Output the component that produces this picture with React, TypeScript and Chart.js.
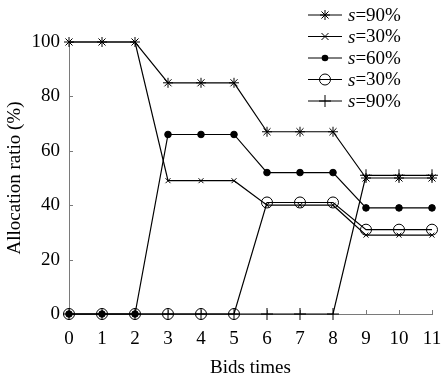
import React, { useEffect, useRef } from 'react';
import { Chart, registerables } from 'chart.js';

Chart.register(...registerables);

const bids = [0, 1, 2, 3, 4, 5, 6, 7, 8, 9, 10, 11];
const starS90 = [100, 100, 100, 85, 85, 85, 67, 67, 67, 50, 50, 50];
const crossS30 = [100, 100, 100, 49, 49, 49, 40, 40, 40, 29, 29, 29];
const dotS60 = [0, 0, 0, 66, 66, 66, 52, 52, 52, 39, 39, 39];
const circleS30 = [0, 0, 0, 0, 0, 0, 41, 41, 41, 31, 31, 31];
const plusS90 = [0, 0, 0, 0, 0, 0, 0, 0, 0, 51, 51, 51];
const legendValues = ['90%', '30%', '60%', '30%', '90%'];
const xTitle = 'Bids times';
const yTitle = 'Allocation ratio (%)';

const FONT = '"Liberation Serif", "Times New Roman", serif';
const AXIS = '#7a7a7a';

type Marker = 'star' | 'crossRot' | 'dot' | 'circle' | 'cross';

function drawMarker(ctx: CanvasRenderingContext2D, kind: Marker, x: number, y: number) {
  ctx.save();
  ctx.strokeStyle = '#000';
  ctx.fillStyle = '#000';
  ctx.lineWidth = 1;
  ctx.beginPath();
  if (kind === 'star') {
    const r = 5;
    for (let k = 0; k < 4; k++) {
      const a = (k * Math.PI) / 4;
      ctx.moveTo(x - r * Math.cos(a), y - r * Math.sin(a));
      ctx.lineTo(x + r * Math.cos(a), y + r * Math.sin(a));
    }
    ctx.stroke();
  } else if (kind === 'crossRot') {
    const r = 3.5;
    ctx.moveTo(x - r, y - r);
    ctx.lineTo(x + r, y + r);
    ctx.moveTo(x - r, y + r);
    ctx.lineTo(x + r, y - r);
    ctx.stroke();
  } else if (kind === 'dot') {
    ctx.arc(x, y, 3.3, 0, Math.PI * 2);
    ctx.fill();
  } else if (kind === 'circle') {
    ctx.arc(x, y, 5.5, 0, Math.PI * 2);
    ctx.stroke();
  } else {
    const r = 6;
    ctx.moveTo(x - r, y);
    ctx.lineTo(x + r, y);
    ctx.moveTo(x, y - r);
    ctx.lineTo(x, y + r);
    ctx.stroke();
  }
  ctx.restore();
}

const markers: Marker[] = ['star', 'crossRot', 'dot', 'circle', 'cross'];

const legendPlugin = {
  id: 'customLegend',
  afterDraw(chart: any) {
    const ctx: CanvasRenderingContext2D = chart.ctx;
    ctx.save();
    legendValues.forEach((v, i) => {
      const y = 15 + i * 21.5;
      ctx.strokeStyle = '#000';
      ctx.lineWidth = 1;
      ctx.beginPath();
      ctx.moveTo(308, y);
      ctx.lineTo(342, y);
      ctx.stroke();
      drawMarker(ctx, markers[i], 325, y);
      ctx.fillStyle = '#000';
      ctx.textBaseline = 'middle';
      ctx.textAlign = 'left';
      ctx.font = `italic 19px ${FONT}`;
      ctx.fillText('s', 348, y + 1);
      const w = ctx.measureText('s').width;
      ctx.font = `19px ${FONT}`;
      ctx.fillText('=' + v, 348 + w, y + 1);
    });
    ctx.restore();
  },
};

const tickPlugin = {
  id: 'inwardTicks',
  beforeDatasetsDraw(chart: any) {
    const ctx: CanvasRenderingContext2D = chart.ctx;
    const xs = chart.scales.x;
    const ys = chart.scales.y;
    const { left, bottom } = chart.chartArea;
    ctx.save();
    ctx.strokeStyle = AXIS;
    ctx.lineWidth = 1;
    ctx.beginPath();
    bids.forEach((b) => {
      const px = Math.round(xs.getPixelForValue(b)) + 0.5;
      ctx.moveTo(px, bottom);
      ctx.lineTo(px, bottom - 4);
    });
    [20, 40, 60, 80, 100].forEach((t) => {
      const py = Math.round(ys.getPixelForValue(t)) + 0.5;
      ctx.moveTo(left, py);
      ctx.lineTo(left + 4, py);
    });
    ctx.stroke();
    ctx.restore();
  },
};

export default function App() {
  const ref = useRef<HTMLCanvasElement>(null);
  useEffect(() => {
    if (!ref.current) return;
    const mk = (vals: number[], style: string, radius: number, fill: string) => ({
      data: vals.map((v, i) => ({ x: bids[i], y: v })),
      borderColor: '#000',
      borderWidth: 1.2,
      pointStyle: style,
      pointRadius: radius,
      pointBorderColor: '#000',
      pointBackgroundColor: fill,
      pointBorderWidth: 1,
      tension: 0,
      clip: false as any,
    });
    const chart = new Chart(ref.current, {
      type: 'line',
      data: {
        datasets: [
          mk(starS90, 'star', 5, '#000'),
          mk(crossS30, 'crossRot', 3.5, '#000'),
          mk(dotS60, 'circle', 3.3, '#000'),
          mk(circleS30, 'circle', 5.5, 'rgba(0,0,0,0)'),
          mk(plusS90, 'cross', 6, '#000'),
        ] as any,
      },
      options: {
        animation: false,
        responsive: false,
        maintainAspectRatio: false,
        layout: { padding: { top: 42, right: 11, left: 0, bottom: 0 } },
        plugins: { legend: { display: false }, tooltip: { enabled: false } },
        scales: {
          x: {
            type: 'linear',
            min: 0,
            max: 11,
            afterFit: (s: any) => {
              s.height = 69;
              s.paddingLeft = 0;
              s.paddingRight = 0;
            },
            grid: { display: false, drawTicks: false },
            border: { color: AXIS, width: 1 },
            ticks: {
              stepSize: 1,
              padding: 14,
              maxRotation: 0,
              autoSkip: false,
              color: '#000',
              font: { family: FONT, size: 19 },
            },
            title: {
              display: true,
              text: xTitle,
              color: '#000',
              font: { family: FONT, size: 19 },
              padding: { top: 0, bottom: 4 },
            },
          },
          y: {
            type: 'linear',
            min: 0,
            max: 100,
            afterFit: (s: any) => {
              s.width = 69;
              s.paddingTop = 0;
              s.paddingBottom = 0;
            },
            grid: { display: false, drawTicks: false },
            border: { color: AXIS, width: 1 },
            ticks: {
              stepSize: 20,
              padding: 9,
              color: '#000',
              font: { family: FONT, size: 19 },
            },
            title: {
              display: true,
              text: yTitle,
              color: '#000',
              font: { family: FONT, size: 19 },
              padding: { top: 4, bottom: 0 },
            },
          },
        },
      },
      plugins: [tickPlugin, legendPlugin],
    });
    return () => chart.destroy();
  }, []);
  return (
    <div style={{ position: 'fixed', left: 0, top: 0, width: 443, height: 383, background: '#fff' }}>
      <canvas ref={ref} width={443} height={383} style={{ width: 443, height: 383 }} />
    </div>
  );
}
